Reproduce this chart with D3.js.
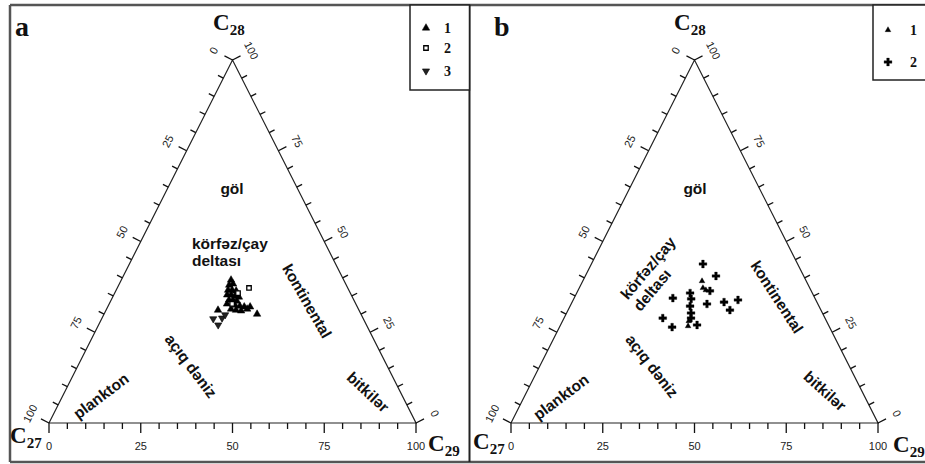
<!DOCTYPE html>
<html>
<head>
<meta charset="utf-8">
<script src="https://cdn.jsdelivr.net/npm/d3@7"></script>
<style>
  body { margin: 0; background: #fff; }
  svg { display: block; }
</style>
</head>
<body>
<svg id="chart" width="925" height="464"></svg>
<script>
// ---------------------------//
//            DATA            //
// ---------------------------//
// every sample is [C27, C28, C29] in %
const samplesA1 = [
  [30.7, 39.4, 29.9], [31.9, 38.0, 30.1], [30.7, 38.3, 31.0], [32.9, 36.6, 30.5],
  [31.8, 36.6, 31.6], [30.8, 36.4, 32.8], [33.8, 35.3, 30.9], [32.7, 35.3, 32.0],
  [31.8, 35.0, 33.2], [30.9, 34.7, 34.4], [34.0, 33.9, 32.1], [32.9, 33.9, 33.2],
  [32.0, 33.6, 34.4], [35.1, 32.8, 32.1], [33.1, 32.5, 34.4], [31.9, 32.2, 35.9],
  [30.8, 32.0, 37.2], [34.7, 31.4, 33.9], [33.5, 31.1, 35.4], [32.2, 30.9, 36.9],
  [30.3, 31.4, 38.3], [29.2, 32.0, 38.8], [28.3, 30.0, 41.7], [38.4, 31.1, 30.5]
];
const samplesA2 = [[26.9, 37.2, 35.9], [33.7, 32.8, 33.5], [30.6, 35.8, 33.6]];
const samplesA3 = [[38.4, 28.9, 32.7], [40.4, 27.0, 32.6], [37.1, 29.8, 33.1], [40.9, 28.7, 30.4]];

const samplesB1 = [[28.4, 39.1, 32.5], [29.1, 37.2, 33.7], [28.6, 36.6, 34.8], [38.4, 26.7, 34.9], [37.5, 28.1, 34.4]];
const samplesB2 = [
  [25.8, 43.8, 30.4], [23.9, 40.5, 35.6], [33.3, 35.8, 30.9], [33.8, 34.2, 32.0],
  [38.7, 34.4, 26.9], [35.1, 32.2, 32.7], [30.2, 32.8, 37.0], [25.3, 33.3, 41.4],
  [21.2, 33.9, 44.9], [24.8, 31.1, 44.1], [35.8, 30.3, 33.9], [36.5, 28.9, 34.6],
  [44.2, 28.9, 26.9], [42.9, 26.4, 30.7], [35.8, 27.0, 37.2], [27.6, 36.4, 36.0]
];

const tickValues = d3.range(0, 101, 5);
const tickLabels = [0, 25, 50, 75, 100];

const regionLabels = ["göl", "körfəz/çay", "deltası", "kontinental", "açıq dəniz", "plankton", "bitkilər"];

const legendA = ["1", "2", "3"];
const legendB = ["1", "2"];

// ---------------------------//
//          SETTINGS          //
// ---------------------------//
const BASE_Y = 423, APEX_Y = 60;
const svg = d3.select("#chart");

const symTri  = d3.symbol().type(d3.symbolTriangle).size(24);
const symSq   = d3.symbol().type(d3.symbolSquare).size(20);
const symDown = d3.symbol().type(d3.symbolTriangle).size(22);
const symCross = d3.symbol().type(d3.symbolCross).size(34);
const symTriB = d3.symbol().type(d3.symbolTriangle).size(14);

// ---------------------------//
//           FRAME            //
// ---------------------------//
const frame = svg.append("g").attr("stroke", "#555").attr("fill", "none");
frame.append("line").attr("x1", 10).attr("x2", 925).attr("y1", 5).attr("y2", 5).attr("stroke-width", 2.5);
frame.append("line").attr("x1", 10).attr("x2", 925).attr("y1", 462).attr("y2", 462).attr("stroke-width", 2.5);
frame.append("line").attr("x1", 10).attr("x2", 10).attr("y1", 5).attr("y2", 462).attr("stroke-width", 2.5);
frame.append("line").attr("x1", 469.5).attr("x2", 469.5).attr("y1", 5).attr("y2", 462).attr("stroke-width", 2).attr("stroke", "#222");

// ---------------------------//
//         DRAW PANEL         //
// ---------------------------//
var drawPanel = function(opt)
{
    const g = svg.append("g");

    // x along the base (C29), y is the height (C28)
    const x = d3.scaleLinear().domain([0, 100]).range([opt.x0, opt.x1]);
    const y = d3.scaleLinear().domain([0, 100]).range([BASE_Y, APEX_Y]);
    const pt = d => [x(d[2] + d[1] / 2), y(d[1])];

    const L = pt([100, 0, 0]), T = pt([0, 100, 0]), R = pt([0, 0, 100]);

    // outward normal of the left side (right side is mirrored)
    const len = Math.hypot(T[0] - L[0], T[1] - L[1]);
    const nLx = (T[1] - L[1]) / len, nLy = -(T[0] - L[0]) / len;
    const angL = Math.atan2(T[1] - L[1], T[0] - L[0]) * 180 / Math.PI;
    const angR = Math.atan2(R[1] - T[1], R[0] - T[0]) * 180 / Math.PI;

    g.append("path")
        .attr("d", d3.line()([L, T, R, L]))
        .attr("fill", "none")
        .attr("stroke", "#222")
        .attr("stroke-width", 1.2);

    // tick segments for the three sides
    const segs = [];
    tickValues.forEach(v => {
        const major = v % 25 === 0;
        const p = pt([100 - v, 0, v]);                 // C29, bottom
        segs.push([p, [p[0], p[1] + (major ? 10 : 6)]]);
        const la = major ? 9 : 6;
        const a = pt([v, 100 - v, 0]);                 // C27, left
        segs.push([a, [a[0] + nLx * la, a[1] + nLy * la]]);
        const b = pt([0, v, 100 - v]);                 // C28, right
        segs.push([b, [b[0] - nLx * la, b[1] + nLy * la]]);
    });

    g.append("g")
        .selectAll("path")
        .data(segs)
        .enter()
        .append("path")
        .attr("d", d => d3.line()(d))
        .attr("fill", "none")
        .attr("stroke", "#111")
        .attr("stroke-width", 1.3);

    const tl = g.append("g")
        .attr("font-family", "'Liberation Sans Narrow', 'Arial Narrow', 'Liberation Sans', sans-serif")
        .attr("font-size", 11)
        .attr("fill", "#222")
        .attr("text-anchor", "middle");

    tickLabels.forEach(v => {
        const p = pt([100 - v, 0, v]);
        tl.append("text").attr("x", p[0]).attr("y", p[1] + 27).text(v);

        const a = pt([v, 100 - v, 0]);
        const ax = a[0] + nLx * 21, ay = a[1] + nLy * 21;
        tl.append("text").attr("transform", `translate(${ax},${ay}) rotate(${angL})`)
            .attr("dy", "0.35em").text(v);

        const b = pt([0, v, 100 - v]);
        const bx = b[0] - nLx * 21, by = b[1] + nLy * 21;
        tl.append("text").attr("transform", `translate(${bx},${by}) rotate(${angR})`)
            .attr("dy", "0.35em").text(v);
    });

    // vertex labels
    const vl = g.append("g")
        .attr("font-family", "'Liberation Serif', 'Times New Roman', serif")
        .attr("font-weight", "bold")
        .attr("fill", "#111");
    opt.vertex.forEach(d => {
        const t = vl.append("text").attr("x", d.x).attr("y", d.y).attr("font-size", 23);
        t.append("tspan").text("C");
        t.append("tspan").attr("font-size", 15).attr("dy", 5).text(d.sub);
    });

    // panel letter
    g.append("text")
        .attr("x", opt.letter.x).attr("y", opt.letter.y)
        .attr("font-family", "'Liberation Serif', 'Times New Roman', serif")
        .attr("font-weight", "bold")
        .attr("font-size", 28)
        .attr("fill", "#111")
        .text(opt.letter.text);

    // region labels
    const rl = g.append("g")
        .attr("font-family", "'Liberation Sans', Arial, sans-serif")
        .attr("font-weight", "bold")
        .attr("font-size", 15.5)
        .attr("fill", "#111");
    opt.regions.forEach((d, i) => {
        rl.append("text")
            .attr("transform", `translate(${d.x},${d.y}) rotate(${d.r})`)
            .attr("text-anchor", d.anchor || "middle")
            .attr("dy", "0.35em")
            .text(regionLabels[i]);
    });

    // samples
    const marks = g.append("g");
    opt.series.forEach(s => {
        marks.selectAll(null)
            .data(s.data)
            .enter()
            .append("path")
            .attr("d", s.symbol)
            .attr("transform", d => `translate(${pt(d)[0]},${pt(d)[1]})` + (s.flip ? " rotate(180)" : ""))
            .attr("fill", s.fill)
            .attr("stroke", "#000")
            .attr("stroke-width", s.stroke);
    });

    // legend box
    const lg = g.append("g");
    lg.append("rect")
        .attr("x", opt.legend.x).attr("y", opt.legend.y)
        .attr("width", opt.legend.w).attr("height", opt.legend.h)
        .attr("fill", "#fff").attr("stroke", "#222").attr("stroke-width", 1.5);
    opt.legend.items.forEach((it, i) => {
        const s = opt.series[i];
        const yy = opt.legend.rows[i];
        lg.append("path")
            .attr("d", s.symbol)
            .attr("transform", `translate(${opt.legend.x + opt.legend.sx},${yy})` + (s.flip ? " rotate(180)" : ""))
            .attr("fill", s.fill).attr("stroke", "#000").attr("stroke-width", s.stroke);
        lg.append("text")
            .attr("x", opt.legend.x + opt.legend.tx).attr("y", yy)
            .attr("dy", "0.35em")
            .attr("font-family", "'Liberation Serif', 'Times New Roman', serif")
            .attr("font-weight", "bold")
            .attr("font-size", 14)
            .attr("fill", "#111")
            .text(it);
    });
};

// ---------------------------//
//          PANEL  A          //
// ---------------------------//
drawPanel({
    x0: 49, x1: 416,
    letter: { text: "a", x: 15, y: 36 },
    vertex: [
        { sub: "28", x: 213, y: 30 },
        { sub: "27", x: 10, y: 443 },
        { sub: "29", x: 428, y: 451 }
    ],
    regions: [
        { x: 232, y: 189, r: 0 },
        { x: 192, y: 244, r: 0, anchor: "start" },
        { x: 192, y: 261, r: 0, anchor: "start" },
        { x: 307, y: 301, r: 60 },
        { x: 191, y: 366, r: 53 },
        { x: 101, y: 396, r: -37 },
        { x: 368, y: 392, r: 43 }
    ],
    series: [
        { data: samplesA1, symbol: symTri, fill: "#000", stroke: 0.5 },
        { data: samplesA2, symbol: symSq, fill: "#fff", stroke: 1.3 },
        { data: samplesA3, symbol: symDown, fill: "#222", stroke: 0.6, flip: true }
    ],
    legend: {
        x: 410, y: 5, w: 59.5, h: 85, sx: 16, tx: 34,
        rows: [28, 48, 71], items: legendA
    }
});

// ---------------------------//
//          PANEL  B          //
// ---------------------------//
drawPanel({
    x0: 511, x1: 878,
    letter: { text: "b", x: 494, y: 36 },
    vertex: [
        { sub: "28", x: 674, y: 30 },
        { sub: "27", x: 473, y: 449 },
        { sub: "29", x: 893, y: 452 }
    ],
    regions: [
        { x: 695, y: 189, r: 0 },
        { x: 648, y: 268, r: -50 },
        { x: 652, y: 290, r: -50 },
        { x: 777, y: 297, r: 57 },
        { x: 652, y: 366, r: 52 },
        { x: 561, y: 397, r: -37 },
        { x: 825, y: 391, r: 42 }
    ],
    series: [
        { data: samplesB1, symbol: symTriB, fill: "#000", stroke: 0.4 },
        { data: samplesB2, symbol: symCross, fill: "#000", stroke: 0.3 }
    ],
    legend: {
        x: 873, y: 5, w: 60, h: 75, sx: 15, tx: 37,
        rows: [30, 62], items: legendB
    }
});
</script>
</body>
</html>
